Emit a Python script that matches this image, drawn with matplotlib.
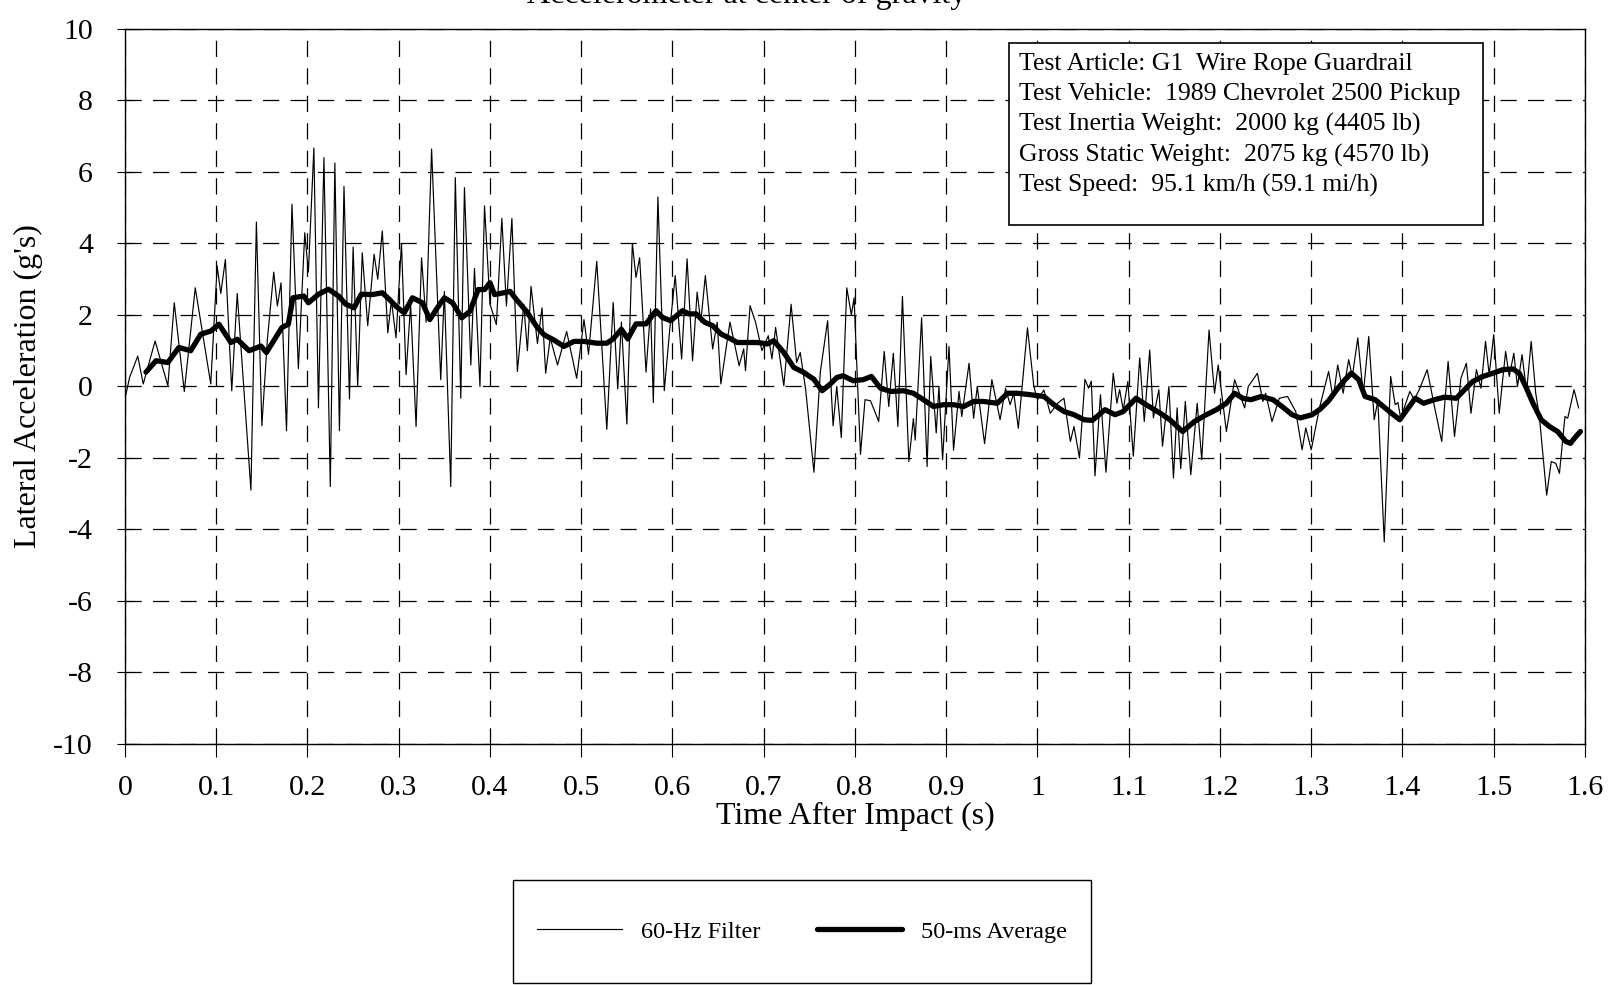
import numpy as np
import matplotlib.pyplot as plt
from matplotlib.patches import Rectangle

plt.rcParams['font.family'] = ['Liberation Serif', 'DejaVu Serif']
plt.rcParams['axes.unicode_minus'] = False

# 60-Hz filtered trace (time s, lateral accel g's)
filt_t = [0.000, 0.005, 0.014, 0.020, 0.033, 0.047, 0.054, 0.065, 0.077, 0.094,
          0.101, 0.105, 0.110, 0.117, 0.123, 0.138, 0.144, 0.150, 0.156, 0.163,
          0.167, 0.171, 0.177, 0.183, 0.190, 0.197, 0.201, 0.207, 0.212, 0.218,
          0.225, 0.230, 0.235, 0.240, 0.246, 0.250, 0.255, 0.260, 0.266, 0.273,
          0.277, 0.282, 0.288, 0.292, 0.297, 0.303, 0.308, 0.313, 0.319, 0.325,
          0.330, 0.336, 0.346, 0.350, 0.357, 0.362, 0.368, 0.372, 0.379, 0.383,
          0.389, 0.394, 0.400, 0.407, 0.413, 0.418, 0.424, 0.430, 0.437, 0.441,
          0.445, 0.452, 0.457, 0.461, 0.466, 0.474, 0.484, 0.495, 0.503, 0.508,
          0.517, 0.528, 0.535, 0.540, 0.544, 0.550, 0.556, 0.560, 0.564, 0.571,
          0.576, 0.579, 0.584, 0.591, 0.597, 0.603, 0.610, 0.616, 0.622, 0.627,
          0.631, 0.636, 0.644, 0.649, 0.653, 0.663, 0.673, 0.678, 0.680, 0.685,
          0.691, 0.698, 0.705, 0.709, 0.713, 0.722, 0.730, 0.736, 0.740, 0.746,
          0.755, 0.762, 0.770, 0.776, 0.780, 0.785, 0.791, 0.796, 0.799, 0.806,
          0.811, 0.817, 0.826, 0.832, 0.837, 0.842, 0.847, 0.852, 0.859, 0.864,
          0.866, 0.873, 0.879, 0.883, 0.889, 0.892, 0.896, 0.903, 0.908, 0.914,
          0.917, 0.925, 0.930, 0.934, 0.942, 0.950, 0.959, 0.965, 0.970, 0.974,
          0.979, 0.989, 0.996, 1.000, 1.007, 1.014, 1.022, 1.029, 1.036, 1.040,
          1.046, 1.052, 1.056, 1.059, 1.063, 1.069, 1.075, 1.083, 1.087, 1.090,
          1.094, 1.099, 1.105, 1.112, 1.117, 1.123, 1.127, 1.133, 1.137, 1.144,
          1.149, 1.153, 1.157, 1.162, 1.168, 1.175, 1.180, 1.188, 1.194, 1.198,
          1.207, 1.216, 1.227, 1.231, 1.241, 1.247, 1.250, 1.257, 1.265, 1.274,
          1.283, 1.290, 1.294, 1.300, 1.309, 1.319, 1.324, 1.329, 1.335, 1.341,
          1.345, 1.351, 1.357, 1.363, 1.369, 1.373, 1.380, 1.387, 1.392, 1.395,
          1.398, 1.408, 1.413, 1.419, 1.427, 1.435, 1.443, 1.450, 1.457, 1.464,
          1.470, 1.475, 1.481, 1.486, 1.491, 1.495, 1.500, 1.506, 1.513, 1.517,
          1.522, 1.526, 1.531, 1.536, 1.541, 1.546, 1.550, 1.558, 1.563, 1.568,
          1.572, 1.578, 1.581, 1.588, 1.593]
filt_g = [-0.35, 0.25, 0.85, 0.07, 1.27, 0.02, 2.34, -0.14, 2.76, 0.07,
          3.37, 2.60, 3.55, -0.12, 2.60, -2.90, 4.60, -1.10, 1.30, 3.20,
          2.25, 2.90, -1.24, 5.10, 0.50, 4.30, 3.20, 6.67, -0.60, 6.40,
          -2.80, 6.25, -1.24, 5.60, -0.35, 3.90, 0.00, 3.74, 1.70, 3.70,
          3.00, 4.35, 1.50, 2.40, 1.36, 4.00, 0.33, 2.30, -1.12, 3.60,
          1.80, 6.64, 0.19, 2.66, -2.80, 5.84, -0.33, 5.56, 0.60, 3.30,
          0.00, 5.05, 2.30, 1.73, 4.70, 2.25, 4.70, 0.42, 2.30, 1.00,
          2.80, 1.20, 2.20, 0.37, 1.36, 0.60, 1.54, 0.23, 1.87, 0.90,
          3.50, -1.20, 2.35, -0.07, 1.80, -1.05, 4.00, 3.05, 3.60, 0.40,
          2.17, -0.45, 5.30, -0.12, 1.60, 3.10, 0.77, 3.57, 0.72, 2.64,
          1.80, 3.10, 1.05, 1.80, 0.07, 1.80, 0.58, 1.05, 0.44, 2.26,
          1.80, 1.00, 1.42, 0.77, 1.65, 0.02, 2.30, 0.67, 0.95, -0.10,
          -2.40, 0.40, 1.84, -1.10, 0.00, -1.43, 2.76, 2.00, 2.48, -1.90,
          -0.37, -0.40, -0.98, 0.98, -0.56, 0.93, -1.12, 2.52, -2.10, -0.90,
          -1.50, 1.92, -2.24, 0.84, -1.30, 0.00, -2.05, 1.12, -1.78, -0.14,
          -0.84, 0.65, -0.89, 0.00, -1.60, 0.19, -0.93, -0.05, -0.51, -0.19,
          -1.17, 1.64, 0.00, -0.37, -0.10, -0.75, -0.47, -0.33, -1.54, -1.12,
          -2.00, 0.20, -0.05, 0.15, -2.50, -0.23, -2.40, 0.37, -0.47, -0.09,
          -0.65, 0.14, -1.95, 0.80, -0.98, 1.02, -0.88, -0.09, -1.67, 0.00,
          -2.56, -0.60, -2.30, -0.42, -2.47, -0.47, -2.05, 1.58, -0.19, 0.60,
          -1.26, 0.19, -0.60, 0.00, 0.37, -0.42, -0.19, -0.98, -0.33, -0.28,
          -0.70, -1.77, -1.16, -1.77, -0.60, 0.42, -0.33, 0.60, -0.19, 0.75,
          0.28, 1.36, -0.23, 1.40, -0.93, -0.40, -4.35, 0.28, -0.51, -0.45,
          -0.89, -0.14, -0.37, -0.05, 0.47, -0.56, -1.54, 0.70, -1.40, 0.23,
          0.65, -0.75, 0.47, -0.05, 1.26, 0.33, 1.45, -0.75, 0.98, 0.28,
          0.93, 0.00, 0.89, -0.14, 1.26, -0.19, -0.84, -3.04, -2.10, -2.15,
          -2.43, -0.84, -0.89, -0.09, -0.60]

# 50-ms moving average trace
avg_t = [0.023, 0.034, 0.047, 0.059, 0.072, 0.083, 0.094, 0.103, 0.116, 0.123,
         0.136, 0.149, 0.155, 0.164, 0.172, 0.179, 0.184, 0.196, 0.201, 0.212,
         0.223, 0.234, 0.242, 0.251, 0.259, 0.271, 0.282, 0.290, 0.297, 0.306,
         0.315, 0.326, 0.334, 0.341, 0.350, 0.359, 0.369, 0.378, 0.387, 0.394,
         0.400, 0.405, 0.415, 0.422, 0.429, 0.440, 0.451, 0.459, 0.470, 0.481,
         0.492, 0.503, 0.517, 0.528, 0.535, 0.544, 0.551, 0.560, 0.571, 0.582,
         0.589, 0.598, 0.611, 0.618, 0.626, 0.635, 0.644, 0.653, 0.664, 0.671,
         0.682, 0.693, 0.704, 0.711, 0.722, 0.733, 0.744, 0.755, 0.764, 0.773,
         0.780, 0.787, 0.798, 0.809, 0.818, 0.828, 0.839, 0.853, 0.864, 0.875,
         0.886, 0.897, 0.908, 0.919, 0.930, 0.941, 0.956, 0.967, 0.978, 0.992,
         1.007, 1.018, 1.029, 1.040, 1.051, 1.060, 1.074, 1.085, 1.094, 1.108,
         1.119, 1.134, 1.145, 1.159, 1.172, 1.185, 1.196, 1.207, 1.216, 1.225,
         1.234, 1.245, 1.258, 1.268, 1.279, 1.288, 1.301, 1.310, 1.319, 1.328,
         1.337, 1.344, 1.352, 1.359, 1.370, 1.379, 1.388, 1.397, 1.406, 1.414,
         1.423, 1.435, 1.446, 1.459, 1.468, 1.477, 1.488, 1.499, 1.510, 1.521,
         1.528, 1.535, 1.543, 1.552, 1.561, 1.570, 1.579, 1.584, 1.590, 1.595]
avg_g = [0.40, 0.72, 0.67, 1.09, 1.00, 1.46, 1.55, 1.74, 1.23, 1.32,
         1.00, 1.13, 0.95, 1.32, 1.65, 1.74, 2.48, 2.53, 2.34, 2.58,
         2.72, 2.53, 2.30, 2.20, 2.58, 2.57, 2.62, 2.43, 2.24, 2.06,
         2.48, 2.34, 1.87, 2.15, 2.48, 2.34, 1.92, 2.10, 2.71, 2.71,
         2.90, 2.57, 2.62, 2.66, 2.43, 2.10, 1.68, 1.45, 1.30, 1.12,
         1.26, 1.26, 1.21, 1.21, 1.33, 1.60, 1.33, 1.75, 1.75, 2.12,
         1.93, 1.84, 2.12, 2.03, 2.03, 1.80, 1.70, 1.47, 1.33, 1.23,
         1.23, 1.23, 1.19, 1.28, 0.95, 0.53, 0.39, 0.20, -0.12, 0.07,
         0.25, 0.30, 0.16, 0.19, 0.28, -0.05, -0.14, -0.12, -0.19, -0.37,
         -0.56, -0.51, -0.51, -0.56, -0.42, -0.42, -0.47, -0.19, -0.19, -0.23,
         -0.28, -0.51, -0.70, -0.79, -0.93, -0.95, -0.65, -0.79, -0.70, -0.33,
         -0.51, -0.74, -0.93, -1.26, -0.98, -0.79, -0.65, -0.47, -0.19, -0.33,
         -0.37, -0.28, -0.37, -0.56, -0.79, -0.88, -0.79, -0.63, -0.40, -0.09,
         0.19, 0.37, 0.19, -0.28, -0.37, -0.56, -0.75, -0.93, -0.61, -0.33,
         -0.47, -0.37, -0.30, -0.33, -0.09, 0.14, 0.28, 0.37, 0.47, 0.49,
         0.37, 0.00, -0.47, -0.93, -1.12, -1.26, -1.54, -1.59, -1.40, -1.26]

x_ticks = [0.0, 0.1, 0.2, 0.3, 0.4, 0.5, 0.6, 0.7, 0.8, 0.9, 1.0, 1.1, 1.2, 1.3, 1.4, 1.5, 1.6]
x_tick_labels = ['0', '0.1', '0.2', '0.3', '0.4', '0.5', '0.6', '0.7', '0.8', '0.9',
                 '1', '1.1', '1.2', '1.3', '1.4', '1.5', '1.6']
y_ticks = [-10, -8, -6, -4, -2, 0, 2, 4, 6, 8, 10]

box_lines = ['Test Article: G1  Wire Rope Guardrail',
             'Test Vehicle:  1989 Chevrolet 2500 Pickup',
             'Test Inertia Weight:  2000 kg (4405 lb)',
             'Gross Static Weight:  2075 kg (4570 lb)',
             'Test Speed:  95.1 km/h (59.1 mi/h)']

fig = plt.figure(figsize=(16.19, 9.85), dpi=100)
ax = fig.add_axes([0.0772, 0.2447, 0.9018, 0.7259])

ax.plot(filt_t, filt_g, color='black', lw=0.85, label='60-Hz Filter')
ax.plot(avg_t, avg_g, color='black', lw=3.8, solid_joinstyle='round',
        solid_capstyle='round', label='50-ms Average')

ax.set_xlim(0, 1.6)
ax.set_ylim(-10, 10)
ax.set_xticks(x_ticks)
ax.set_xticklabels(x_tick_labels)
ax.set_yticks(y_ticks)
ax.grid(True, color='black', linestyle=(0, (13, 9)), lw=0.9)
ax.tick_params(axis='x', direction='out', length=9, pad=13, labelsize=21.5)
ax.tick_params(axis='y', direction='inout', length=12, pad=17, labelsize=21.5)
for s in ax.spines.values():
    s.set_linewidth(1.0)

ax.set_xlabel('Time After Impact (s)', fontsize=23)
ax.xaxis.label.set_va('center')
ax.xaxis.set_label_coords(0.5, -0.101)
ax.set_ylabel("Lateral Acceleration (g's)", fontsize=23)
ax.yaxis.label.set_va('center')
ax.yaxis.set_label_coords(-0.066, 0.5)

# title sits mostly above the page edge, as on the scanned sheet
fig.text(0.461, 0.997, 'Accelerometer at center of gravity', ha='center',
         va='baseline', fontsize=23)

# test info box
ax.add_patch(Rectangle((0.6055, 0.726), 0.3246, 0.254, transform=ax.transAxes,
                       facecolor='white', ec='black', lw=1.2, zorder=5))
for i, line in enumerate(box_lines):
    ax.text(0.6123, 0.980 - (20.5 + 30.5 * i) / 715, line, transform=ax.transAxes,
            ha='left', va='center', fontsize=18.5, zorder=6)

# legend at bottom with its own frame
fig.add_artist(Rectangle((513 / 1619, 1 - 983 / 985), 578 / 1619, 103 / 985,
                         transform=fig.transFigure, fill=False, ec='black', lw=1.0))
fig.legend(*ax.get_legend_handles_labels(), loc='center',
           bbox_to_anchor=(0.4954, 0.0543), ncol=2, frameon=False, fontsize=17.5,
           handlelength=3.5, handletextpad=0.8, columnspacing=2.3)

fig.savefig('out.png', dpi=100)
